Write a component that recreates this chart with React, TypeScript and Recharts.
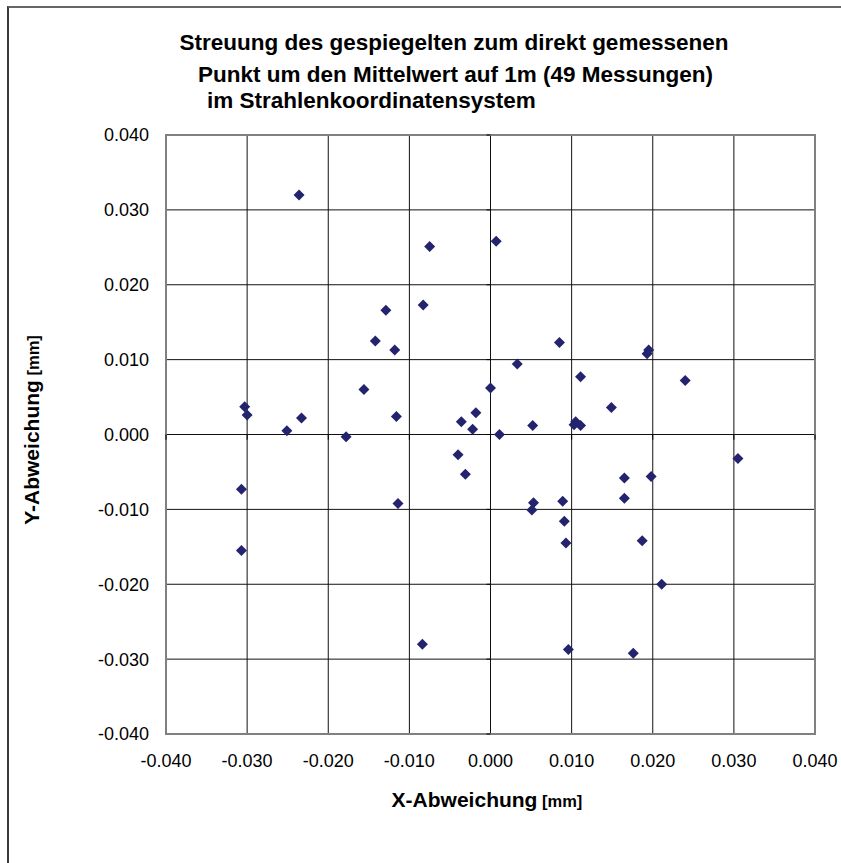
import { ScatterChart, Scatter, XAxis, YAxis, CartesianGrid, ReferenceArea, ReferenceLine } from 'recharts';

const xValues = [
  -0.0236, -0.0129, -0.0142, -0.0118, -0.0156, -0.0116, -0.0303, -0.0300, -0.0251, -0.0233,
  -0.0178, -0.0075, 0.0007, -0.0083, 0.0085, 0.0195, 0.0193, 0.0033, 0.0111, 0.0240,
  0.0000, 0.0149, -0.0018, -0.0036, -0.0022, 0.0011, 0.0052, 0.0103, 0.0105, 0.0111,
  -0.0307, -0.0307, -0.0114, -0.0040, -0.0031, 0.0305, 0.0165, 0.0198, 0.0165, 0.0053,
  0.0051, 0.0089, 0.0091, 0.0093, 0.0187, 0.0211, -0.0084, 0.0096, 0.0176,
];
const yValues = [
  0.0320, 0.0166, 0.0125, 0.0113, 0.0060, 0.0024, 0.0037, 0.0026, 0.0005, 0.0022,
  -0.0003, 0.0251, 0.0258, 0.0173, 0.0123, 0.0113, 0.0108, 0.0094, 0.0077, 0.0072,
  0.0062, 0.0036, 0.0029, 0.0017, 0.0007, 0.0000, 0.0012, 0.0013, 0.0017, 0.0012,
  -0.0073, -0.0155, -0.0092, -0.0027, -0.0053, -0.0032, -0.0058, -0.0056, -0.0085, -0.0091,
  -0.0101, -0.0089, -0.0116, -0.0145, -0.0142, -0.0200, -0.0280, -0.0287, -0.0292,
];
const axisTicks = [-0.04, -0.03, -0.02, -0.01, 0, 0.01, 0.02, 0.03, 0.04];
const titleLines = [
  'Streuung des gespiegelten zum direkt gemessenen',
  'Punkt um den Mittelwert auf 1m (49 Messungen)',
  'im Strahlenkoordinatensystem',
];

const points = xValues.map((x, i) => ({ x, y: yValues[i] }));

const font = '"Liberation Sans", Arial, sans-serif';
const markerColor = '#24246e';

const Diamond = (props: any) => {
  const { cx, cy } = props;
  const r = 5.5;
  return (
    <polygon
      points={`${cx},${cy - r} ${cx + r},${cy} ${cx},${cy + r} ${cx - r},${cy}`}
      fill={markerColor}
    />
  );
};

const fmt = (v: number) => v.toFixed(3);

const titleStyle = {
  position: 'absolute' as const,
  fontWeight: 'bold' as const,
  fontSize: 22.5,
  whiteSpace: 'nowrap' as const,
  lineHeight: '26px',
};

export default function App() {
  return (
    <div style={{ position: 'absolute', left: 0, top: 0, width: 841, height: 863, overflow: 'hidden', background: '#fff', fontFamily: font }}>
      {/* outer chart frame, only left and top edges are inside the picture */}
      <div
        style={{
          position: 'absolute',
          left: 7,
          top: 6,
          width: 900,
          height: 900,
          borderLeft: '2px solid #3a3a3a',
          borderTop: '2px solid #666',
          boxSizing: 'border-box',
        }}
      />

      {/* title */}
      <div style={{ ...titleStyle, left: 0, width: 908, top: 30, textAlign: 'center' }}>{titleLines[0]}</div>
      <div style={{ ...titleStyle, left: 0, width: 911, top: 62, textAlign: 'center' }}>{titleLines[1]}</div>
      <div style={{ ...titleStyle, left: 207, top: 88 }}>{titleLines[2]}</div>

      <div style={{ position: 'absolute', left: 0, top: 0 }}>
        <ScatterChart width={841} height={863} margin={{ top: 135, right: 26, bottom: 89, left: 0 }}>
          <CartesianGrid stroke="#111" strokeWidth={1} horizontalValues={axisTicks} verticalValues={axisTicks} />
          <XAxis
            type="number"
            dataKey="x"
            domain={[-0.04, 0.04]}
            ticks={axisTicks}
            tickFormatter={fmt}
            allowDataOverflow
            axisLine={false}
            tickLine={false}
            tickSize={20}
            tickMargin={0}
            height={40}
            tick={{ fontSize: 18, fill: '#000', fontFamily: font }}
            interval={0}
          />
          <YAxis
            type="number"
            dataKey="y"
            domain={[-0.04, 0.04]}
            ticks={axisTicks}
            tickFormatter={fmt}
            allowDataOverflow
            axisLine={false}
            tickLine={false}
            tickSize={17}
            tickMargin={0}
            width={166}
            tick={{ fontSize: 18, fill: '#000', fontFamily: font }}
            interval={0}
          />
          <ReferenceArea x1={-0.04} x2={0.04} y1={-0.04} y2={0.04} fill="none" stroke="#808080" strokeWidth={2} fillOpacity={0} ifOverflow="visible" />
          {/* small tick marks of the axes crossing at zero */}
          {axisTicks.map((t) => (
            <ReferenceLine
              key={`xt-${t}`}
              segment={[{ x: t, y: 0 }, { x: t, y: -0.0007 }]}
              stroke="#000"
              strokeWidth={1}
              ifOverflow="visible"
            />
          ))}
          {axisTicks.map((t) => (
            <ReferenceLine
              key={`yt-${t}`}
              segment={[{ x: -0.0005, y: t }, { x: 0, y: t }]}
              stroke="#000"
              strokeWidth={1}
              ifOverflow="visible"
            />
          ))}
          <Scatter data={points} shape={<Diamond />} isAnimationActive={false} />
        </ScatterChart>
      </div>

      {/* axis titles */}
      <div style={{ position: 'absolute', left: 0, width: 974, top: 788, textAlign: 'center', fontWeight: 'bold', whiteSpace: 'nowrap' }}>
        <span style={{ fontSize: 21 }}>X-Abweichung</span>
        <span style={{ fontSize: 16.5 }}> [mm]</span>
      </div>
      <div
        style={{
          position: 'absolute',
          left: 32,
          top: 430,
          transform: 'translate(-50%, -50%) rotate(-90deg)',
          fontWeight: 'bold',
          whiteSpace: 'nowrap',
        }}
      >
        <span style={{ fontSize: 21 }}>Y-Abweichung</span>
        <span style={{ fontSize: 16.5 }}> [mm]</span>
      </div>
    </div>
  );
}
